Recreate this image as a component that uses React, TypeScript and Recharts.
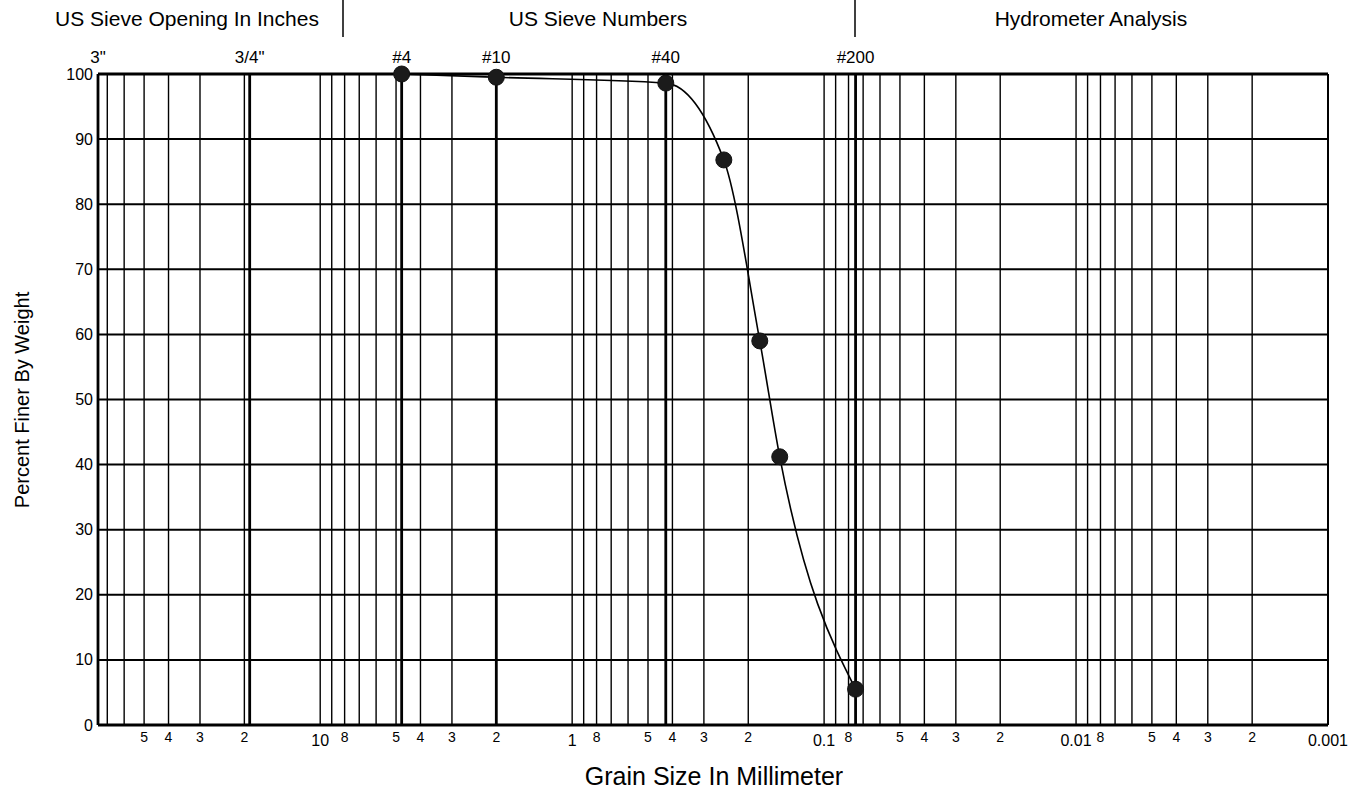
import React from "react";
import { LineChart, Line, XAxis, YAxis, CartesianGrid, ReferenceLine } from "recharts";

// Gradation test: sieve opening (mm) against percent passing
const sieveSizes = [4.75, 2.0, 0.425, 0.25, 0.18, 0.15, 0.075];
const percentFiner = [100, 99.5, 98.6, 86.8, 59.0, 41.2, 5.5];

// Standard sieves called out along the top edge
const markerSizes = [76.2, 19.05, 4.75, 2.0, 0.425, 0.075];
const markerLabels = ['3"', '3/4"', "#4", "#10", "#40", "#200"];

// Log paper: one group of lines per decade
const decades = [10, 1, 0.1, 0.01, 0.001];
const decadeLabels = ["10", "1", "0.1", "0.01", "0.001"];
const mantissas = [9, 8, 7, 6, 5, 4, 3, 2];
const labelledMantissas = [8, 5, 4, 3, 2];

const percentTicks = [0, 10, 20, 30, 40, 50, 60, 70, 80, 90, 100];

const X_MAX = 76.2;
const X_MIN = 0.001;
const FONT = "'Liberation Sans', Arial, Helvetica, sans-serif";

type GridTick = { value: number; label: string; major: boolean };

const gridTicks: GridTick[] = decades.flatMap((d, i) => [
  ...mantissas
    .map((m) => ({ value: m * d, label: labelledMantissas.includes(m) ? String(m) : "", major: false }))
    .filter((t) => t.value < X_MAX),
  { value: d, label: decadeLabels[i], major: true },
]);
const tickLookup = new Map(gridTicks.map((t) => [t.value, t]));

const data = sieveSizes.map((size, i) => ({ size, pct: percentFiner[i] }));

const GrainTick = (props: any) => {
  const { x, y, payload } = props;
  const t = tickLookup.get(payload.value);
  if (!t || !t.label) return <g />;
  return (
    <text
      x={x}
      y={y + (t.major ? 15 : 12)}
      textAnchor="middle"
      dominantBaseline="central"
      fontFamily={FONT}
      fontSize={t.major ? 16 : 14}
      fill="#000"
    >
      {t.label}
    </text>
  );
};

const SieveTick = (props: any) => {
  const { x, y, payload } = props;
  const i = markerSizes.indexOf(payload.value);
  return (
    <text x={x} y={y - 17} textAnchor="middle" dominantBaseline="central" fontFamily={FONT} fontSize={17} fill="#000">
      {markerLabels[i]}
    </text>
  );
};

const PercentTick = (props: any) => {
  const { x, y, payload } = props;
  return (
    <text x={x} y={y} textAnchor="end" dominantBaseline="central" fontFamily={FONT} fontSize={16} fill="#000">
      {payload.value}
    </text>
  );
};

export default function App() {
  return (
    <div style={{ position: "absolute", left: 0, top: 0, width: 1363, height: 791, background: "#fff" }}>
      <LineChart width={1363} height={791} data={data} margin={{ top: 44, right: 35, bottom: 0, left: 0 }}>
        <CartesianGrid horizontal={false} stroke="#000" strokeWidth={1.4} />
        <CartesianGrid vertical={false} stroke="#000" strokeWidth={2} />
        <XAxis
          dataKey="size"
          type="number"
          scale="log"
          domain={[X_MIN, X_MAX]}
          reversed
          ticks={gridTicks.map((t) => t.value)}
          interval={0}
          tick={<GrainTick />}
          tickLine={false}
          axisLine={false}
          tickSize={0}
          tickMargin={0}
          height={66}
        />
        <XAxis
          xAxisId="sieve"
          dataKey="size"
          orientation="top"
          type="number"
          scale="log"
          domain={[X_MIN, X_MAX]}
          reversed
          ticks={markerSizes}
          interval={0}
          tick={<SieveTick />}
          tickLine={false}
          axisLine={false}
          tickSize={0}
          tickMargin={0}
          height={30}
        />
        <YAxis
          type="number"
          domain={[0, 100]}
          ticks={percentTicks}
          interval={0}
          tick={<PercentTick />}
          tickLine={false}
          axisLine={false}
          tickSize={0}
          tickMargin={5}
          width={98}
        />
        {markerSizes.map((s) => (
          <ReferenceLine key={s} x={s} stroke="#000" strokeWidth={2.8} />
        ))}
        <ReferenceLine x={X_MIN} stroke="#000" strokeWidth={2} />
        <ReferenceLine y={100} stroke="#000" strokeWidth={3} />
        <ReferenceLine y={0} stroke="#000" strokeWidth={3} />
        <Line
          type="monotone"
          dataKey="pct"
          stroke="#000"
          strokeWidth={1.6}
          dot={{ r: 8, fill: "#1b1b1b", stroke: "#111", strokeWidth: 1 }}
          isAnimationActive={false}
        />
      </LineChart>
      <svg
        width={1363}
        height={791}
        style={{ position: "absolute", left: 0, top: 0, pointerEvents: "none" }}
        fontFamily={FONT}
      >
        <text x={187} y={18} textAnchor="middle" dominantBaseline="central" fontSize={21}>
          US Sieve Opening In Inches
        </text>
        <line x1={343} y1={0} x2={343} y2={37} stroke="#000" strokeWidth={1.5} />
        <text x={598} y={18} textAnchor="middle" dominantBaseline="central" fontSize={21}>
          US Sieve Numbers
        </text>
        <line x1={855} y1={0} x2={855} y2={37} stroke="#000" strokeWidth={1.5} />
        <text x={1091} y={18} textAnchor="middle" dominantBaseline="central" fontSize={21}>
          Hydrometer Analysis
        </text>
        <text x={714} y={776} textAnchor="middle" dominantBaseline="central" fontSize={25}>
          Grain Size In Millimeter
        </text>
        <text
          x={22}
          y={400}
          textAnchor="middle"
          dominantBaseline="central"
          fontSize={20}
          transform="rotate(-90 22 400)"
        >
          Percent Finer By Weight
        </text>
      </svg>
    </div>
  );
}
